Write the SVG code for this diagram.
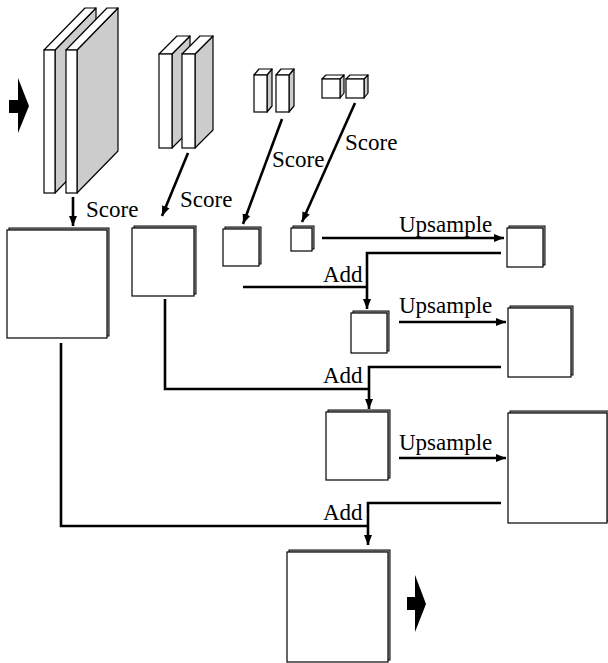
<svg xmlns="http://www.w3.org/2000/svg" width="608" height="663" viewBox="0 0 608 663">
<style>
.front{fill:#fff;stroke:#000;stroke-width:1.2}
.side{fill:#cccccc;stroke:#000;stroke-width:1.2;stroke-linejoin:round}
.top{fill:#fff;stroke:#000;stroke-width:1.2;stroke-linejoin:round}
.back{fill:#aaa;stroke:#000;stroke-width:1}
.conn{fill:none;stroke:#000;stroke-width:2.6}
.lbl{font-family:"Liberation Serif","Times New Roman",serif;font-size:23px;fill:#000}
.blk{fill:#000}
</style>
<defs>
<marker id="ah" markerUnits="userSpaceOnUse" markerWidth="12" markerHeight="12" viewBox="0 0 12 12" refX="10" refY="6" orient="auto">
<path d="M0,2 L10,6 L0,10 Z" fill="#000"/>
</marker>
</defs>

<g id="input-arrow"><path class="blk" d="M9,100 H18 V78 L29,106 L18,133 V113 H9 Z"/></g>

<g id="conv1">
<path class="side" d="M55,50 L96,8 L96,151 L55,193 Z"/>
<path class="top" d="M44,50 L85,8 L96,8 L55,50 Z"/>
<rect class="front" x="44" y="50" width="11" height="143"/>
<path class="side" d="M77,50 L118,8 L118,151 L77,193 Z"/>
<path class="top" d="M66,50 L107,8 L118,8 L77,50 Z"/>
<rect class="front" x="66" y="50" width="11" height="143"/>
</g>

<g id="conv2">
<path class="side" d="M172,54 L190,36 L190,130 L172,148 Z"/>
<path class="top" d="M159,54 L177,36 L190,36 L172,54 Z"/>
<rect class="front" x="159" y="54" width="13" height="94"/>
<path class="side" d="M195,54 L213,36 L213,130 L195,148 Z"/>
<path class="top" d="M182,54 L200,36 L213,36 L195,54 Z"/>
<rect class="front" x="182" y="54" width="13" height="94"/>
</g>

<g id="conv3">
<path class="side" d="M267,75 L272,69 L272,106 L267,112 Z"/>
<path class="top" d="M254,75 L259,69 L272,69 L267,75 Z"/>
<rect class="front" x="254" y="75" width="13" height="37"/>
<path class="side" d="M289,75 L294,69 L294,106 L289,112 Z"/>
<path class="top" d="M276,75 L281,69 L294,69 L289,75 Z"/>
<rect class="front" x="276" y="75" width="13" height="37"/>
</g>

<g id="conv4">
<path class="side" d="M340,79 L344,75 L344,93 L340,98 Z"/>
<path class="top" d="M322,79 L326,75 L344,75 L340,79 Z"/>
<rect class="front" x="322" y="79" width="18" height="19"/>
<path class="side" d="M364,79 L368,75 L368,93 L364,98 Z"/>
<path class="top" d="M346,79 L350,75 L368,75 L364,79 Z"/>
<rect class="front" x="346" y="79" width="18" height="19"/>
</g>

<g id="score1"><rect class="back" x="9" y="228" width="100" height="108"/><rect class="front" x="7" y="230" width="100" height="108"/></g>
<g id="score2"><rect class="back" x="134" y="226" width="62" height="68"/><rect class="front" x="132" y="228" width="62" height="68"/></g>
<g id="score3"><rect class="back" x="225" y="227" width="36" height="37"/><rect class="front" x="223" y="229" width="36" height="37"/></g>
<g id="score4"><rect class="back" x="293" y="226" width="21" height="23"/><rect class="front" x="291" y="228" width="21" height="23"/></g>
<g id="up1"><rect class="back" x="509" y="226" width="36" height="39"/><rect class="front" x="507" y="228" width="36" height="39"/></g>
<g id="add1"><rect class="back" x="353" y="311" width="36" height="40"/><rect class="front" x="351" y="313" width="36" height="40"/></g>
<g id="up2"><rect class="back" x="510" y="306" width="63" height="69"/><rect class="front" x="508" y="308" width="63" height="69"/></g>
<g id="add2"><rect class="back" x="328" y="410" width="62" height="68"/><rect class="front" x="326" y="412" width="62" height="68"/></g>
<g id="up3"><rect class="back" x="510" y="411" width="99" height="110"/><rect class="front" x="508" y="413" width="99" height="110"/></g>
<g id="add3"><rect class="back" x="289" y="550" width="101" height="110"/><rect class="front" x="287" y="552" width="101" height="110"/></g>

<g id="output-arrow"><path class="blk" d="M407,597 H415 V575 L426,604 L415,632 V610 H407 Z"/></g>

<g id="connectors">
<path class="conn" d="M73,197 V226" marker-end="url(#ah)"/>
<path class="conn" d="M188,153 L162,216" marker-end="url(#ah)"/>
<path class="conn" d="M282,119 L243,224" marker-end="url(#ah)"/>
<path class="conn" d="M355,103 L302,222" marker-end="url(#ah)"/>
<path class="conn" d="M322,238 H504" marker-end="url(#ah)"/>
<path class="conn" d="M501,253 H367 V309" marker-end="url(#ah)"/>
<path class="conn" d="M243,287 H367"/>
<path class="conn" d="M399,322 H506" marker-end="url(#ah)"/>
<path class="conn" d="M501,367 H369 V409" marker-end="url(#ah)"/>
<path class="conn" d="M165,299 V389 H369"/>
<path class="conn" d="M399,458 H506" marker-end="url(#ah)"/>
<path class="conn" d="M501,503 H368 V545" marker-end="url(#ah)"/>
<path class="conn" d="M61,343 V526 H368"/>
</g>

<g id="labels">
<text class="lbl" x="86" y="217">Score</text>
<text class="lbl" x="180" y="207">Score</text>
<text class="lbl" x="272" y="167">Score</text>
<text class="lbl" x="345" y="150">Score</text>
<text class="lbl" x="399" y="232">Upsample</text>
<text class="lbl" x="323" y="282">Add</text>
<text class="lbl" x="399" y="313">Upsample</text>
<text class="lbl" x="323" y="383">Add</text>
<text class="lbl" x="399" y="450">Upsample</text>
<text class="lbl" x="323" y="520">Add</text>
</g>
</svg>
